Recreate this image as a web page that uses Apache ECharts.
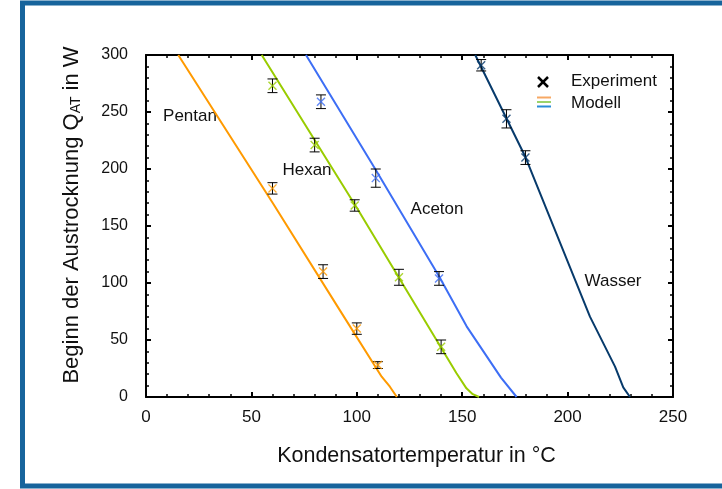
<!DOCTYPE html>
<html>
<head>
<meta charset="utf-8">
<script src="https://cdn.jsdelivr.net/npm/echarts@6/dist/echarts.min.js"></script>
<style>
html,body{margin:0;padding:0;background:#fff;}
#c{width:722px;height:489px;}
</style>
</head>
<body>
<div id="c"></div>
<script>
// ---- data ----
const xTicks = [0, 50, 100, 150, 200, 250];
const yTicks = [0, 50, 100, 150, 200, 250, 300];

// experimental points (x = condenser temperature, y = dry-out onset, err = +/-)
const pentanX = [60, 84, 100, 110];
const pentanY = [183, 110, 60, 28];
const pentanErr = [5, 6, 5, 3];

const hexanX = [60, 80, 99, 120, 140];
const hexanY = [273, 221, 168, 105, 44];
const hexanErr = [6, 6, 5, 7, 6];

const acetonX = [83, 109, 139];
const acetonY = [259, 192, 104];
const acetonErr = [6, 8, 6];

const wasserX = [159, 171, 180];
const wasserY = [291, 244, 210];
const wasserErr = [5, 8, 6];

// model curves
const pentanModelX = [15.3, 60.2, 92, 111.8, 115.7, 119];
const pentanModelY = [300, 170, 76, 17.8, 9, 0];

const hexanModelX = [54.9, 100, 147.3, 152, 155, 158];
const hexanModelY = [300, 166, 20.8, 7.6, 2.5, 0];

const acetonModelX = [75.9, 108.6, 139, 152.1, 168.4, 175.8];
const acetonModelY = [300, 200.5, 106, 62, 17, 0];

const wasserModelX = [156.2, 180, 210.6, 222.5, 226.4, 229.6];
const wasserModelY = [300, 210.5, 70.5, 26.6, 8.5, 0];

const names = ['Pentan', 'Hexan', 'Aceton', 'Wasser'];
const colors = ['#ff9a00', '#99cc00', '#3d6ef5', '#073a6b'];

// ---- build ----
const zip = (a, b) => a.map((v, i) => [v, b[i]]);
const errData = (X, Y, E) => X.map((x, i) => [x, Y[i] - E[i], Y[i] + E[i]]);

const expSets = [
  [pentanX, pentanY, pentanErr],
  [hexanX, hexanY, hexanErr],
  [acetonX, acetonY, acetonErr],
  [wasserX, wasserY, wasserErr]
];
const modelSets = [
  [pentanModelX, pentanModelY],
  [hexanModelX, hexanModelY],
  [acetonModelX, acetonModelY],
  [wasserModelX, wasserModelY]
];

const FONT = "'Liberation Sans', Arial, sans-serif";
const crossPath = 'path://M0,1.1L1.1,0L5,3.9L8.9,0L10,1.1L6.1,5L10,8.9L8.9,10L5,6.1L1.1,10L0,8.9L3.9,5Z';

function renderErr(params, api) {
  const x = api.value(0), lo = api.value(1), hi = api.value(2);
  const p1 = api.coord([x, lo]), p2 = api.coord([x, hi]);
  const w = 5;
  const st = { stroke: '#000', lineWidth: 1 };
  return {
    type: 'group',
    children: [
      { type: 'line', shape: { x1: p1[0], y1: p1[1], x2: p2[0], y2: p2[1] }, style: st },
      { type: 'line', shape: { x1: p1[0] - w, y1: p1[1], x2: p1[0] + w, y2: p1[1] }, style: st },
      { type: 'line', shape: { x1: p2[0] - w, y1: p2[1], x2: p2[0] + w, y2: p2[1] }, style: st }
    ]
  };
}

const series = [];
modelSets.forEach((m, i) => {
  series.push({
    name: names[i] + ' Modell',
    type: 'line',
    data: zip(m[0], m[1]),
    showSymbol: false,
    lineStyle: { color: colors[i], width: 2 },
    itemStyle: { color: colors[i] },
    z: 2,
    silent: true
  });
});
expSets.forEach((e, i) => {
  series.push({
    name: names[i] + ' Fehler',
    type: 'custom',
    renderItem: renderErr,
    data: errData(e[0], e[1], e[2]),
    encode: { x: 0, y: [1, 2] },
    z: 3,
    silent: true
  });
  series.push({
    name: names[i] + ' Experiment',
    type: 'scatter',
    data: zip(e[0], e[1]),
    symbol: crossPath,
    symbolSize: 9,
    itemStyle: { color: colors[i] },
    z: 4,
    silent: true
  });
});

const axisCommon = {
  axisLine: { show: true, onZero: false, lineStyle: { color: '#000', width: 2 } },
  axisTick: { show: true, inside: true, length: 5, lineStyle: { color: '#000', width: 2 } },
  minorTick: { show: true, splitNumber: 5, length: 3, lineStyle: { color: '#000', width: 1.5 } },
  splitLine: { show: false },
  minorSplitLine: { show: false }
};

const option = {
  animation: false,
  backgroundColor: '#fff',
  grid: { left: 146, right: 49, top: 55, bottom: 92 },
  xAxis: [
    Object.assign({
      type: 'value', position: 'bottom', min: xTicks[0], max: xTicks[xTicks.length - 1], interval: 50,
      axisLabel: { show: true, fontFamily: FONT, fontSize: 17, color: '#111', margin: 12 }
    }, axisCommon),
    Object.assign({
      type: 'value', position: 'top', min: xTicks[0], max: xTicks[xTicks.length - 1], interval: 50,
      axisLabel: { show: false }
    }, axisCommon)
  ],
  yAxis: [
    Object.assign({
      type: 'value', position: 'left', min: yTicks[0], max: yTicks[yTicks.length - 1], interval: 50,
      axisLabel: { show: true, fontFamily: FONT, fontSize: 16, color: '#111', margin: 18 }
    }, axisCommon),
    Object.assign({
      type: 'value', position: 'right', min: yTicks[0], max: yTicks[yTicks.length - 1], interval: 50,
      axisLabel: { show: false }
    }, axisCommon)
  ],
  series: series,
  graphic: [
    // outer frame
    { type: 'rect', shape: { x: 22.5, y: 3, width: 740, height: 483 }, style: { fill: 'none', stroke: '#17649c', lineWidth: 5 }, z: 100, silent: true },
    // axis titles
    { type: 'text', x: 416.5, y: 456, style: { text: 'Kondensatortemperatur in °C', font: '21.5px ' + FONT, fill: '#111', align: 'center', verticalAlign: 'middle' } },
    { type: 'text', x: 69, y: 215, rotation: Math.PI / 2,
      style: {
        text: '{a|Beginn der Austrocknung Q}{s|AT}{a| in W}',
        align: 'center', verticalAlign: 'middle',
        rich: {
          a: { fontFamily: FONT, fontSize: 22, fill: '#111', lineHeight: 28, verticalAlign: 'bottom' },
          s: { fontFamily: FONT, fontSize: 14, fill: '#111', lineHeight: 21, verticalAlign: 'bottom' }
        }
      } },
    // curve labels
    { type: 'text', x: 190, y: 116, style: { text: names[0], font: '17px ' + FONT, fill: '#111', align: 'center', verticalAlign: 'middle' } },
    { type: 'text', x: 307, y: 170, style: { text: names[1], font: '17px ' + FONT, fill: '#111', align: 'center', verticalAlign: 'middle' } },
    { type: 'text', x: 437, y: 209, style: { text: names[2], font: '17px ' + FONT, fill: '#111', align: 'center', verticalAlign: 'middle' } },
    { type: 'text', x: 613, y: 281, style: { text: names[3], font: '17px ' + FONT, fill: '#111', align: 'center', verticalAlign: 'middle' } },
    // legend
    { type: 'line', shape: { x1: 538, y1: 77, x2: 548, y2: 87 }, style: { stroke: '#000', lineWidth: 2.5 } },
    { type: 'line', shape: { x1: 548, y1: 77, x2: 538, y2: 87 }, style: { stroke: '#000', lineWidth: 2.5 } },
    { type: 'text', x: 571, y: 81, style: { text: 'Experiment', font: '17px ' + FONT, fill: '#111', align: 'left', verticalAlign: 'middle' } },
    { type: 'line', shape: { x1: 537, y1: 97.5, x2: 551, y2: 97.5 }, style: { stroke: '#f7a864', lineWidth: 2 } },
    { type: 'line', shape: { x1: 537, y1: 102, x2: 551, y2: 102 }, style: { stroke: '#9cd36a', lineWidth: 2 } },
    { type: 'line', shape: { x1: 537, y1: 106.5, x2: 551, y2: 106.5 }, style: { stroke: '#2b8cd6', lineWidth: 2 } },
    { type: 'text', x: 571, y: 103, style: { text: 'Modell', font: '17px ' + FONT, fill: '#111', align: 'left', verticalAlign: 'middle' } }
  ]
};

const chart = echarts.init(document.getElementById('c'), null, { renderer: 'canvas' });
chart.setOption(option);
</script>
</body>
</html>
